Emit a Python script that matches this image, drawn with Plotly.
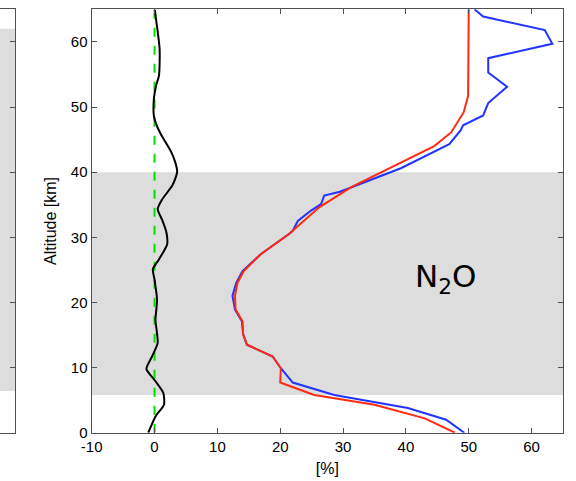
import plotly.graph_objects as go

# Difference profile (black) and zero reference (green)
diff_alt = [64.9, 63.0, 61.6, 59.0, 56.5, 54.8, 53.3, 51.3, 48.6, 47.4, 46.2, 45.0, 43.0, 41.5, 40.1, 39.0,
            37.9, 35.8, 34.3, 32.7, 30.7, 28.9, 26.6, 25.1, 23.5, 20.4, 17.3, 13.8, 11.7, 9.8, 7.9,
            6.1, 4.3, 2.5, 0.0]
diff_val = [0.05, 0.3, 0.5, 0.8, 0.8, 0.7, 0.25, -0.1, -0.1, 0.25, 0.8, 1.5, 2.7, 3.3, 3.6, 3.3,
            2.8, 1.2, 0.5, 1.2, 1.9, 2.0, 0.7, -0.27, 0.0, 0.4, 0.15, 0.5, -0.4, -1.3, 0.15,
            1.4, 1.5, 0.15, -1.0]

# Red profile
red_alt = [65.0, 51.7, 49.2, 46.1, 44.0, 41.5, 37.7, 34.6, 30.5, 27.4, 26.6, 24.8, 23.0, 21.0, 18.9,
           17.1, 15.1, 13.5, 11.7, 9.9, 7.7, 5.8, 4.3, 2.2, 0.0]
red_val = [50.0, 49.9, 49.2, 47.2, 44.5, 39.2, 31.3, 26.2, 21.4, 16.9, 16.1, 14.2, 13.2, 12.8, 12.9,
           14.0, 14.1, 14.7, 18.8, 20.1, 20.0, 25.4, 35.0, 43.0, 47.8]

# Blue profile
blue_alt = [65.0, 63.9, 61.8, 59.7, 57.5, 55.3, 53.1, 50.6, 48.7, 47.2, 46.4, 44.3, 40.6, 37.4, 37.0,
            36.4, 35.1, 34.1, 32.5, 31.0, 30.5, 27.4, 26.6, 24.8, 23.0, 21.0, 18.9, 17.1, 15.1, 13.5,
            11.7, 9.9, 7.7, 5.8, 3.8, 2.0, 0.0]
blue_val = [50.9, 52.3, 62.1, 63.3, 53.1, 53.1, 56.1, 53.1, 52.3, 49.1, 48.7, 46.9, 39.2, 30.7, 29.5,
            27.0, 26.5, 24.9, 22.8, 22.0, 21.4, 16.9, 16.0, 14.0, 13.0, 12.4, 12.8, 13.9, 14.1, 14.7,
            18.8, 20.1, 22.0, 28.6, 40.3, 46.4, 49.3]

x_ticks = [-10, 0, 10, 20, 30, 40, 50, 60]
x_tick_labels = ["-10", "0", "10", "20", "30", "40", "50", "60"]
y_ticks = [0, 10, 20, 30, 40, 50, 60]
y_tick_labels = ["0", "10", "20", "30", "40", "50", "60"]
band_main = (5.8, 40.0)
band_left = (6.4, 62.0)

fig = go.Figure()
fig.add_trace(go.Scatter(x=[0, 0], y=[0, 65], mode="lines",
                         line=dict(color="#00E000", width=2, dash="dash"), showlegend=False))
fig.add_trace(go.Scatter(x=diff_val, y=diff_alt, mode="lines", line=dict(color="black", width=2),
                         line_shape="spline", line_smoothing=0.6, showlegend=False))
fig.add_trace(go.Scatter(x=blue_val, y=blue_alt, mode="lines", line=dict(color="#2233FF", width=2),
                         showlegend=False))
fig.add_trace(go.Scatter(x=red_val, y=red_alt, mode="lines", line=dict(color="#FF2A10", width=2),
                         showlegend=False))

# invisible trace for the left partial panel
fig.add_trace(go.Scatter(x=[0], y=[0], xaxis="x2", yaxis="y2", mode="markers",
                         marker=dict(opacity=0), showlegend=False, hoverinfo="skip"))

axis_col = "#505050"
tickfont = dict(family="Liberation Sans, Arial", size=15, color="black")
titlefont = dict(family="Liberation Sans, Arial", size=16, color="black")
ydom = [(481 - 432.7) / 481, (481 - 9.3) / 481]

fig.update_layout(
    width=576, height=481,
    margin=dict(l=0, r=0, t=0, b=0, autoexpand=False),
    paper_bgcolor="white", plot_bgcolor="white",
    xaxis=dict(domain=[91.7 / 576, 563 / 576], range=[-10, 65], tickvals=x_ticks, ticktext=x_tick_labels,
               automargin=False,
               ticks="inside", ticklen=5, tickcolor=axis_col, showline=True, linecolor=axis_col,
               linewidth=1.3, mirror="ticks", showgrid=False, zeroline=False, tickfont=tickfont,
               title=dict(text="[%]", font=titlefont, standoff=8)),
    yaxis=dict(domain=ydom, range=[0, 65], tickvals=y_ticks, ticktext=y_tick_labels, ticks="inside",
               ticklen=5, automargin=False,
               tickcolor=axis_col, showline=True, linecolor=axis_col, linewidth=1.3, mirror="ticks",
               showgrid=False, zeroline=False, tickfont=tickfont,
               title=dict(text="Altitude [km]", font=titlefont, standoff=10)),
    xaxis2=dict(domain=[0, 15 / 576], range=[0, 1], anchor="y2", showticklabels=False, ticks="",
                automargin=False,
                showline=True, linecolor=axis_col, linewidth=1.3, mirror=True, showgrid=False,
                zeroline=False),
    yaxis2=dict(domain=ydom, range=[0, 65], anchor="x2", side="right", tickvals=y_ticks,
                automargin=False,
                showticklabels=False, ticks="inside", ticklen=5, tickcolor=axis_col, showline=True,
                linecolor=axis_col, linewidth=1.3, showgrid=False, zeroline=False),
    shapes=[
        dict(type="rect", xref="x domain", yref="y", x0=0, x1=1, y0=band_main[0], y1=band_main[1],
             fillcolor="#DDDDDD", line=dict(width=0), layer="below"),
        dict(type="rect", xref="x2 domain", yref="y2", x0=0, x1=1, y0=band_left[0], y1=band_left[1],
             fillcolor="#DDDDDD", line=dict(width=0), layer="below"),
    ],
    annotations=[
        dict(x=46.3, y=23.6, xref="x", yref="y", text="N<sub>2</sub>O", showarrow=False,
             font=dict(family="DejaVu Sans, Verdana", size=31, color="black")),
    ],
)

fig.write_html("out.html")
